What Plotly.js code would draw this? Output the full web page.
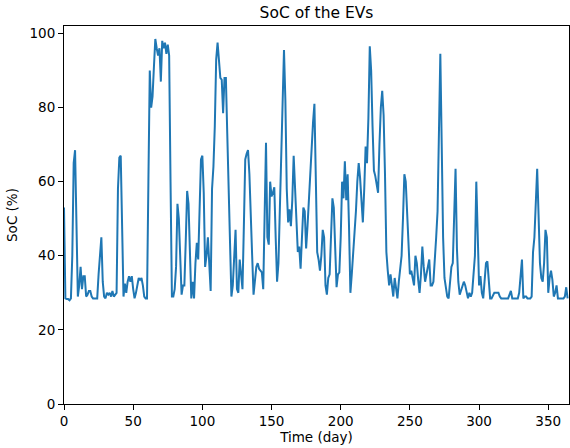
<!DOCTYPE html>
<html>
<head>
<meta charset="utf-8">
<script src="https://cdn.plot.ly/plotly-3.0.1.min.js"></script>
<style>
  html, body { margin: 0; padding: 0; background: #fff; }
  #chart { width: 570px; height: 448px; }
</style>
</head>
<body>
<div id="chart"></div>
<script>
// Daily state of charge of the EV fleet over one year
const socPercent = [
  53, 28.5, 28.3, 28.3, 28, 28.5, 40, 65, 68.5, 45,
  29, 32, 37, 31, 34.5, 34.5, 29, 29.5, 30.5, 30.5,
  29, 28.5, 28.5, 28.5, 28.5, 35, 40, 45, 33, 29,
  28.5, 30, 29.5, 30, 29, 30.5, 29, 29.5, 30, 58,
  66.5, 67, 48, 29, 32.5, 30, 33, 34.5, 33, 34.5,
  31, 28.5, 30, 32, 34, 33.5, 34, 32, 29, 28.5,
  28.5, 60, 90, 80, 83, 91, 98.5, 96, 94, 96,
  87, 98, 96, 97.5, 94.5, 97, 94, 60, 29, 29,
  31, 37, 54, 50, 38, 29.5, 32, 32, 44, 57.5,
  54, 40, 28.5, 33, 28.5, 38, 43.5, 39, 52, 66,
  67, 57, 37, 40, 45, 38, 30.5, 58, 64, 75,
  93, 97.5, 92, 88, 87.5, 78.5, 88, 88, 73, 58,
  43, 29, 32, 40, 47, 31, 30, 39, 35, 31,
  48, 66, 67.5, 68.5, 62, 53, 40, 29.5, 33, 37,
  38, 36.5, 36, 35.5, 31, 55, 70.5, 45, 43, 60,
  56, 57, 58.5, 45, 33, 38, 53, 68, 88, 95.5,
  82, 58, 49, 52.5, 48, 55, 67, 58, 49, 41,
  42.5, 36.5, 45, 53, 52, 42, 48, 56, 62, 70,
  76, 81, 60, 41, 39, 36, 40, 47, 45, 32,
  29.5, 34, 35, 45, 55.5, 53, 43, 31.5, 35, 35.5,
  45, 60, 55.5, 65.5, 55, 62, 48, 30, 35, 40,
  45, 52, 60, 65, 61, 53, 49, 58, 69.5, 65,
  77, 96.5, 90, 75, 63, 61.5, 59, 57, 70, 80,
  84.5, 78, 62, 41, 36, 32, 35, 32, 29, 34,
  31, 28.5, 33, 36.5, 40, 50, 62, 60, 50, 40,
  35, 36, 34, 32, 40, 38, 33.5, 30, 35, 42.5,
  37, 33, 35, 37, 39, 32, 32, 33, 38, 45,
  52, 75, 94.5, 70, 45, 34, 31, 29, 28.5, 33,
  37, 38, 50, 63.5, 42, 33, 29.5, 30.5, 32, 33,
  32, 30, 28.5, 30, 29, 30, 36.5, 40, 60, 45,
  32, 34.5, 30, 28.5, 34, 38, 38.5, 33, 28.5, 28.5,
  29.5, 30, 30, 30, 30, 29, 28.5, 28.5, 28.5, 28.5,
  28.5, 28.5, 29.5, 30.5, 28.5, 28.5, 28.5, 28.5, 28.5, 30,
  35, 39, 28.5, 29, 29, 28.5, 28.5, 28.5, 29, 41,
  45, 55, 63.5, 51, 38, 34, 33, 38, 47, 45,
  30, 34, 36, 33.5, 29, 30, 32, 28.5, 28.5, 28.5,
  28.5, 28.5, 29, 31.5, 28.5
];
const days = socPercent.map((_, i) => i);

const xTicks = [0, 50, 100, 150, 200, 250, 300, 350];
const yTicks = [0, 20, 40, 60, 80, 100];

const font = 'DejaVu Sans, sans-serif';

const trace = {
  x: days,
  y: socPercent,
  type: 'scatter',
  mode: 'lines',
  line: { color: '#1f77b4', width: 2 },
  hoverinfo: 'skip'
};

const axisCommon = {
  showline: true,
  mirror: true,
  linecolor: '#000',
  linewidth: 1,
  showgrid: false,
  zeroline: false,
  ticks: 'outside',
  ticklen: 5,
  tickwidth: 1,
  tickcolor: '#000',
  tickfont: { family: font, size: 13.5, color: '#000' }
};

const layout = {
  width: 570,
  height: 448,
  margin: { l: 64, r: 1, t: 26, b: 44 },
  paper_bgcolor: '#fff',
  plot_bgcolor: '#fff',
  showlegend: false,
  title: {
    text: 'SoC of the EVs',
    font: { family: font, size: 15.5, color: '#000' },
    x: 0.5, xref: 'paper',
    y: 1 - 13 / 448, yref: 'container', yanchor: 'middle'
  },
  xaxis: Object.assign({}, axisCommon, {
    range: [0, 365],
    tickvals: xTicks,
    ticktext: xTicks.map(String),
    title: { text: 'Time (day)', font: { family: font, size: 13.5, color: '#000' }, standoff: 4 }
  }),
  yaxis: Object.assign({}, axisCommon, {
    range: [0, 102],
    tickvals: yTicks,
    ticktext: yTicks.map(String),
    title: { text: 'SoC (%)', font: { family: font, size: 13.5, color: '#000' }, standoff: 8 }
  })
};

Plotly.newPlot('chart', [trace], layout, { displayModeBar: false, staticPlot: true });
</script>
</body>
</html>
